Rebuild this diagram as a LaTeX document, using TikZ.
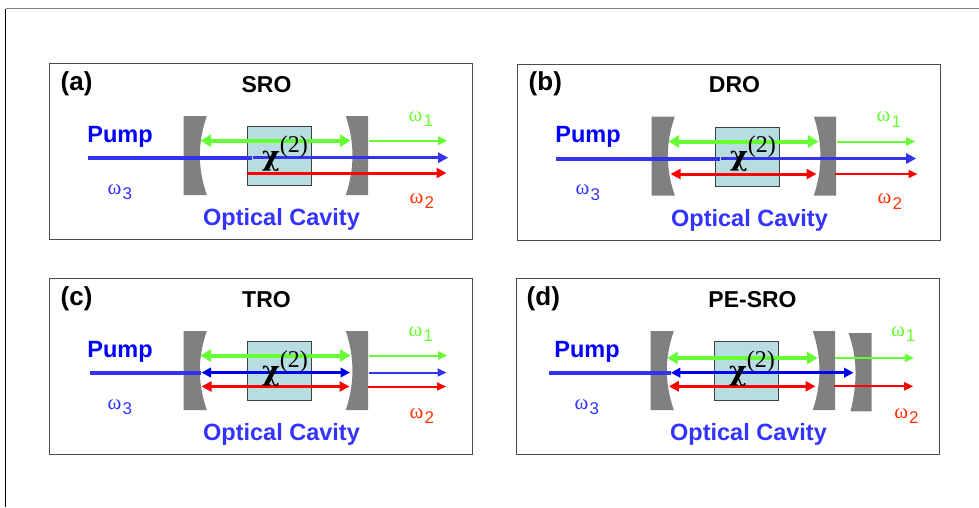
\documentclass[tikz,border=0pt]{standalone}
\usepackage{fontspec}
\setmainfont{Liberation Sans}
\newfontfamily\grk{Liberation Serif}
\newfontfamily\chifont{DejaVu Serif}
\usetikzlibrary{arrows.meta}
\definecolor{gbeam}{HTML}{66FF33}
\definecolor{bbeam}{HTML}{0000EE}
\definecolor{pbeam}{HTML}{3333EE}
\definecolor{rbeam}{HTML}{FF0000}
\definecolor{mirr}{HTML}{808080}
\definecolor{cryst}{HTML}{B7DDE0}
\definecolor{cav}{HTML}{3333FF}
\definecolor{om1}{HTML}{66FF33}
\definecolor{om2}{HTML}{FF3300}
\tikzset{
  panelbox/.style={draw=black!70,line width=1pt,fill=white},
  mirrorshape/.style={fill=mirr,draw=none},
  crystalbox/.style={draw=black!75,line width=1pt,fill=cryst,minimum width=63.7pt,minimum height=58.7pt,inner sep=0pt,anchor=north west},
  thickgreen/.style={color=gbeam,line width=4pt,{Triangle[length=10.5pt,width=12pt]}-{Triangle[length=10.5pt,width=12pt]}},
  thingreen/.style={color=gbeam,line width=2pt,-{Triangle[length=9pt,width=8pt]}},
  pumpleft/.style={color=pbeam,line width=4pt},
  blueout/.style={color=pbeam,line width=3pt,-{Triangle[length=10pt,width=10pt]}},
  thinblue/.style={color=pbeam,line width=2pt,-{Triangle[length=9pt,width=8pt]}},
  bluedouble/.style={color=bbeam,line width=3pt,{Triangle[length=9.5pt,width=9.5pt]}-{Triangle[length=9.5pt,width=9.5pt]}},
  redout/.style={color=rbeam,line width=3pt,-{Triangle[length=10pt,width=10pt]}},
  thinred/.style={color=rbeam,line width=2pt,-{Triangle[length=9pt,width=8pt]}},
  reddouble/.style={color=rbeam,line width=3pt,{Triangle[length=10pt,width=10pt]}-{Triangle[length=10pt,width=10pt]}},
  titletext/.style={font=\fontsize{23}{26}\selectfont\bfseries,anchor=base,inner sep=0pt,text=black},
  tagtext/.style={font=\fontsize{26}{28}\selectfont\bfseries,anchor=base west,inner sep=0pt,text=black},
  pumptext/.style={font=\fontsize{23.5}{26}\selectfont\bfseries,anchor=base,inner sep=0pt,text=blue},
  cavtext/.style={font=\fontsize{23.5}{26}\selectfont\bfseries,anchor=base,inner sep=0pt,text=cav},
  omtext/.style={font=\fontsize{17}{18}\selectfont,anchor=base west,inner sep=0pt},
  chitext/.style={anchor=base west,inner sep=0pt,text=black},
}
% beam: name, style, x1, x2, y
\newcommand{\beam}[5]{%
  \coordinate (#1-s) at (#3,#5);
  \coordinate (#1-e) at (#4,#5);
  \draw[#2] (#1-s) -- (#1-e);}
\newcommand{\omlabel}[4]{% name, colour, index, position
  \node[omtext,text=#2] (#1) at (#4) {{\grk\fontsize{21}{24}\selectfont ω}\raisebox{-5.5pt}{\kern1pt #3}};}
% name, tag, title, title x, tag x
\newcommand{\panelbase}[5]{%
  \node[panelbox,minimum width=423pt,minimum height=176pt,anchor=north west,inner sep=0pt] (#1-frame) at (0,0) {};
  \fill[mirrorshape] (135,53) -- (158.3,53) .. controls (149,80) and (149,105) .. (158.3,132) -- (135,132) -- cycle;
  \fill[mirrorshape] (319.7,53) -- (297.3,53) .. controls (306.2,80) and (306.2,105) .. (297.3,132) -- (319.7,132) -- cycle;
  \node[crystalbox] (#1-crystal) at (198.3,63.3) {};
  \node[tagtext] (#1-tag) at (#5,27) {#2};
  \node[titletext] (#1-title) at (#4,29.3) {#3};
  \node[pumptext] (#1-pump) at (71.5,79.3) {Pump};
  \node[cavtext] (#1-cav) at (233,162.7) {Optical Cavity};
  \omlabel{#1-om3}{cav}{3}{59,131}
}
\newcommand{\chilabel}[1]{%
  \node[chitext] (#1-chi) at (213.5,102) {\chifont\fontsize{27}{30}\selectfont\bfseries χ\raisebox{13pt}{\grk\mdseries\fontsize{24}{26}\selectfont (2)}};}
\begin{document}
\begin{tikzpicture}[x=1pt,y=-1pt]
\useasboundingbox (0,0) rectangle (979,507);
\fill[white] (0,0) rectangle (979,507);
\coordinate (corner) at (5.5,8.5);
\coordinate (topend) at (979,8.5);
\coordinate (leftend) at (5.5,507);
\draw[mirr,line width=1pt] (corner) -- (topend);
\draw[black,line width=1pt] (corner) -- (leftend);

% (a)
\begin{scope}[shift={(48.5,63)}]
\panelbase{a}{(a)}{SRO}{218}{12}
\beam{a1}{thickgreen}{152}{302}{77.7}
\beam{a2}{thingreen}{320}{398.7}{77.7}
\beam{a3}{pumpleft}{39.7}{203}{94.7}
\beam{a4}{blueout}{204}{399.7}{94.7}
\beam{a5}{redout}{198.3}{398}{110}
\chilabel{a}
\omlabel{a-om1}{om1}{1}{360,58}
\omlabel{a-om2}{om2}{2}{361,140}
\end{scope}

% (b)
\begin{scope}[shift={(516.5,63.5)}]
\panelbase{b}{(b)}{DRO}{218}{12}
\beam{b1}{thickgreen}{152}{302}{78}
\beam{b2}{thingreen}{320}{398.7}{78}
\beam{b3}{pumpleft}{39.7}{203}{95}
\beam{b4}{blueout}{204}{399.7}{95}
\beam{b5}{reddouble}{154}{300}{110.5}
\beam{b6}{thinred}{318.5}{401}{110.5}
\chilabel{b}
\omlabel{b-om1}{om1}{1}{360,58}
\omlabel{b-om2}{om2}{2}{361,140}
\end{scope}

% (c)
\begin{scope}[shift={(48.5,278)}]
\panelbase{c}{(c)}{TRO}{218}{12}
\beam{c1}{thickgreen}{152}{302}{77.5}
\beam{c2}{thingreen}{320}{398.7}{77.5}
\beam{c3}{pumpleft}{41}{152}{94.5}
\beam{c4}{bluedouble}{153}{301.5}{94.5}
\beam{c5}{thinblue}{320}{398}{94.5}
\beam{c6}{reddouble}{153}{301}{108.5}
\beam{c7}{thinred}{319.5}{397.5}{108.5}
\chilabel{c}
\omlabel{c-om1}{om1}{1}{360,58}
\omlabel{c-om2}{om2}{2}{361,140}
\end{scope}

% (d)
\begin{scope}[shift={(515.5,278)}]
\panelbase{d}{(d)}{PE-SRO}{237}{11}
\fill[mirrorshape] (333,55) -- (356,55) -- (356,133.3) -- (335,133.3) .. controls (342,105) and (342,80) .. (333,55) -- cycle;
\beam{d1}{thickgreen}{151.7}{302}{80}
\beam{d2}{thingreen}{319.3}{398.3}{80}
\beam{d3}{pumpleft}{33.7}{155.3}{94.7}
\beam{d4}{bluedouble}{155.3}{338}{94.7}
\beam{d5}{reddouble}{153.3}{300}{108.3}
\beam{d6}{thinred}{318.7}{397.7}{108.3}
\chilabel{d}
\omlabel{d-om1}{om1}{1}{375.3,58}
\omlabel{d-om2}{om2}{2}{378.7,140}
\end{scope}
\end{tikzpicture}
\end{document}
